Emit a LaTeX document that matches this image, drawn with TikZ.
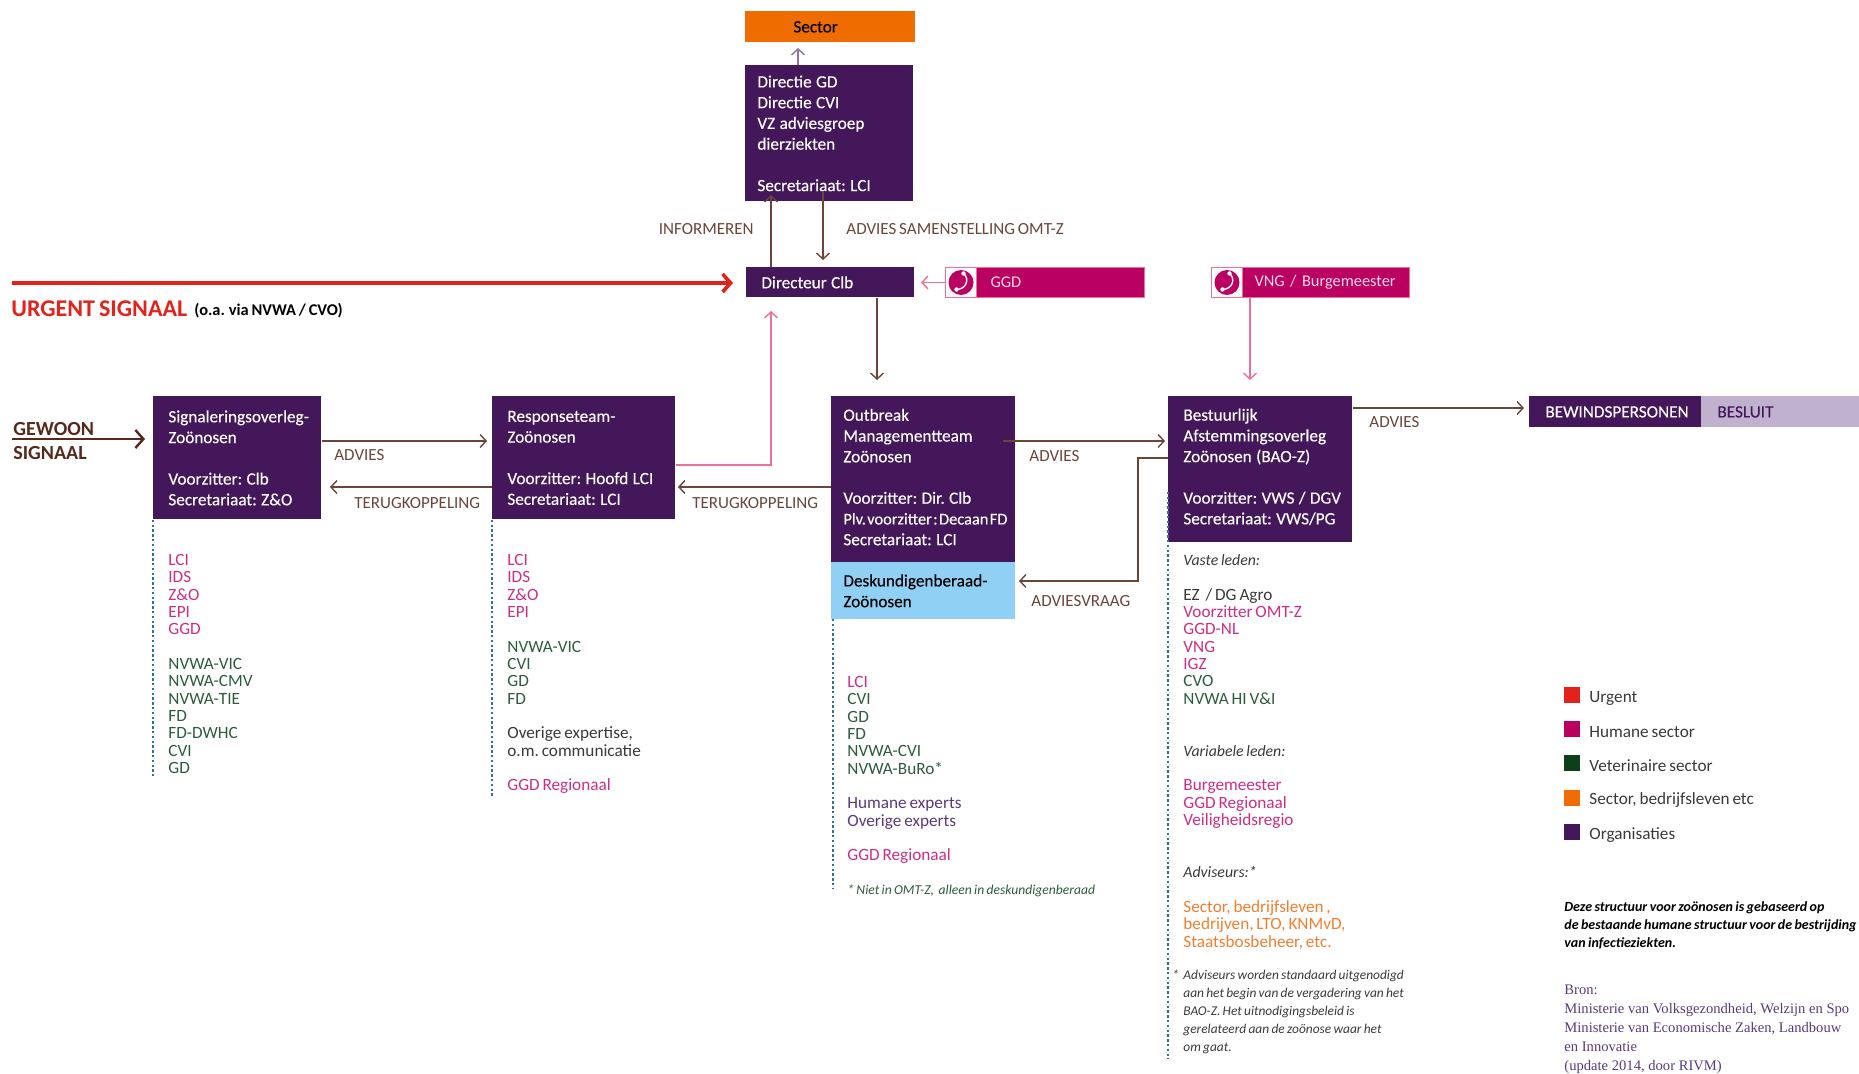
\documentclass[tikz,border=0pt]{standalone}
\usepackage{fontspec}
\setmainfont{Carlito}[WordSpace=0.75]
\newfontfamily\serifsrc{Liberation Serif}
\newfontfamily\boxfam{Carlito}[FakeBold=0.25]
\usetikzlibrary{arrows.meta}
\definecolor{org}{HTML}{43175A}
\definecolor{sect}{HTML}{EE6C00}
\definecolor{hum}{HTML}{BA0060}
\definecolor{humtxt}{HTML}{CC2E85}
\definecolor{hline}{HTML}{EE7098}
\definecolor{urg}{HTML}{E3231B}
\definecolor{vet}{HTML}{0B4019}
\definecolor{vettxt}{HTML}{2C5C3C}
\definecolor{orgtxt}{HTML}{5B3A7A}
\definecolor{sky}{HTML}{90D0F5}
\definecolor{lila}{HTML}{C0B1CE}
\definecolor{brn}{HTML}{6B4538}
\definecolor{dbrn}{HTML}{55291C}
\definecolor{dots}{HTML}{2F6FA8}
\definecolor{advtxt}{HTML}{F07F30}
\definecolor{gry}{HTML}{3A3A3A}
\newcommand{\boxfont}{\fontsize{8.6}{10.37}\selectfont\boxfam\frenchspacing}
\newcommand{\listfont}{\fontsize{8.6}{8.67}\selectfont\frenchspacing}
\newcommand{\ch}{\color{humtxt}}
\newcommand{\cv}{\color{vettxt}}
\newcommand{\cg}{\color{gry}}
\newcommand{\co}{\color{orgtxt}}
\newcommand{\ca}{\color{advtxt}}
\newcommand{\lh}{\fontsize{7.9}{8.67}\selectfont\itshape\color{gry}}
\newcommand{\phoneglyph}[2]{%
  \draw[handset] (#1+3,#2-9) .. controls (#1+10,#2-3) and (#1+5,#2+7) .. (#1-4,#2+7);
  \fill[white] (#1+3,#2-9) circle (1.1pt);
  \fill[white] (#1-4,#2+7) circle (1.1pt);
}
\tikzset{
  x=0.5pt,y=-0.5pt,
  >={Straight Barb[length=3pt,width=6.5pt]},
  orgbox/.style n args={3}{anchor=north west,fill=org,text=white,draw=none,
    minimum width=#1*0.5pt,minimum height=#2*0.5pt,
    inner xsep=#3*0.5pt,inner ysep=0pt,text width=(#1-2*#3)*0.5pt,
    align=left,font=\boxfont,execute at begin node={\spaceskip=2.2pt\relax}},
  phonebox/.style={anchor=north west,fill=hum,draw=hline,line width=0.5pt,text=white!85!hum,
    minimum height=15pt,inner ysep=0pt,align=left,font=\fontsize{8.2}{10}\selectfont\frenchspacing},
  iconbox/.style={anchor=north west,fill=white,draw=hline,line width=0.5pt,
    minimum width=15.5pt,minimum height=15pt,inner sep=0pt},
  iconcirc/.style={circle,fill=hum,minimum size=12.5pt,inner sep=0pt},
  handset/.style={white,line width=0.7pt,line cap=round},
  lbl/.style={anchor=west,inner sep=0pt,text=brn,font=\fontsize{8.5}{10}\selectfont\frenchspacing},
  memberlist/.style={anchor=north west,inner sep=0pt,align=left,font=\listfont},
  note/.style={anchor=north west,inner sep=0pt,align=left,text=gry,
    font=\fontsize{6.7}{9}\selectfont\itshape\frenchspacing},
  swatch/.style={anchor=center,minimum size=8pt,inner sep=0pt},
  legtxt/.style={anchor=west,inner sep=0pt,text=gry,font=\fontsize{8.6}{10}\selectfont},
  brnline/.style={draw=brn,line width=0.7pt},
  pinkline/.style={draw=hline,line width=0.7pt},
  dotline/.style={draw=dots,line width=1pt,dash pattern=on 1.2pt off 1.2pt},
}
\begin{document}
\begin{tikzpicture}
\useasboundingbox (0,0) rectangle (1859,1074);

% --- main boxes
\node[orgbox={170}{31}{48},fill=sect,text=black] (sector) at (745,11) {Sector};
\node[orgbox={168}{136}{12}] (directie) at (745,65) {Directie GD\\Directie CVI\\VZ adviesgroep\\dierziekten\\\mbox{}\\Secretariaat: LCI};
\node[orgbox={168}{30}{15}] (dir) at (746,267) {Directeur Clb};
\node[phonebox,minimum width=99.5pt,inner xsep=22.5pt,text width=54.5pt] (ggd) at (945,267) {GGD};
\node[iconbox] (icon1) at (945,267) {};
\node[iconcirc] (circ1) at (icon1.center) {};
\phoneglyph{960.5}{282.5}
\node[phonebox,minimum width=99pt,inner xsep=21.5pt,text width=56pt] (vng) at (1211,267) {\mbox{VNG / Burgemeester}};
\node[iconbox] (icon2) at (1211,267) {};
\node[iconcirc] (circ2) at (icon2.center) {};
\phoneglyph{1226.5}{282.5}

\node[orgbox={168}{123}{15}] (sig) at (153,396) {\mbox{Signaleringsoverleg-}\\Zoönosen\\\mbox{}\\Voorzitter: Clb\\Secretariaat: Z\&O};
\node[orgbox={183}{123}{15}] (resp) at (492,396) {Responseteam-\\Zoönosen\\\mbox{}\\Voorzitter: Hoofd LCI\\Secretariaat: LCI};
\node[orgbox={184}{166}{12}] (omt) at (831,396) {Outbreak\\Managementteam\\Zoönosen\\\mbox{}\\Voorzitter: Dir. Clb\\\mbox{\fontsize{8.2}{10.37}\selectfont\spaceskip=0.7pt\relax Plv. voorzitter : Decaan FD}\\Secretariaat: LCI\\[-8pt]\mbox{}};
\node[orgbox={184}{57}{12},fill=sky,text=black] (desk) at (831,562) {Deskundigenberaad-\\Zoönosen};
\node[orgbox={184}{146}{15}] (bao) at (1168,396) {Bestuurlijk\\Afstemmingsoverleg\\Zoönosen (BAO-Z)\\\mbox{}\\\mbox{Voorzitter: VWS / DGV}\\\mbox{Secretariaat: VWS/PG}\\[-7.5pt]\mbox{}};
\node[orgbox={172}{31}{16}] (bew) at (1529,396) {BEWINDSPERSONEN};
\node[orgbox={158}{31}{16},fill=lila,text=org] (bes) at (1701,396) {BESLUIT};

% --- free ends
\coordinate (urgstart) at (12,283);
\coordinate (gewstart) at (12,439);
\coordinate (urgtip) at (733,283);
\coordinate (gewtip) at (145,439);

% --- connectors
\draw[->,draw=urg,line width=1.8pt,>={Straight Barb[length=4pt,width=9pt]}] (urgstart) -- (urgtip);
\draw[->,draw=dbrn,line width=1.2pt,>={Straight Barb[length=4pt,width=9pt]}] (gewstart) -- (gewtip);
\draw[->,draw=orgtxt!70,line width=0.7pt] (directie.north -| 798,0) -- (798,48);
\draw[->,brnline] (dir.north -| 771,0) -- (771,195);
\draw[->,brnline] (823,192) -- (823,260);
\draw[->,pinkline] (ggd.west) -- ++(-24,0);
\draw[->,brnline] (dir.south -| 877,0) -- (877,380);
\draw[->,pinkline] (vng.south -| 1250,0) -- (1250,380);
\draw[->,pinkline] (resp.east |- 0,465) -| (771,311);
\draw[->,brnline] (sig.east |- 0,441) -- (487,441);
\draw[->,brnline] (resp.west |- 0,487) -- (330,487);
\draw[->,brnline] (omt.west |- 0,487) -- (678,487);
\draw[->,brnline] (1003,441) -- (1165,441);
\draw[->,brnline] (bao.west |- 0,458) -| (1138,581) -- (1019,581);
\draw[->,brnline] (bao.east |- 0,408) -- (1524,408);

% --- dotted member rails
\draw[dotline] (sig.south west) -- (153,776);
\draw[dotline] (resp.south west) -- (492,798);
\draw[dotline] (833,619) -- (833,889);
\draw[dotline] (1168,492) -- (1168,1059);

% --- connector labels
\node[lbl,anchor=east] (l1) at (754,229) {INFORMEREN};
\node[lbl] (l2) at (846,229) {ADVIES SAMENSTELLING OMT-Z};
\node[lbl] (l3) at (334,455) {ADVIES};
\node[lbl] (l4) at (354,503) {TERUGKOPPELING};
\node[lbl] (l5) at (692,503) {TERUGKOPPELING};
\node[lbl] (l6) at (1029,456) {ADVIES};
\node[lbl] (l7) at (1031,601) {ADVIESVRAAG};
\node[lbl] (l8) at (1369,422) {ADVIES};

\node[anchor=west,inner sep=0pt,text=urg,font=\fontsize{12}{13}\selectfont\bfseries] (urgent) at (11,309) {URGENT SIGNAAL};
\node[anchor=west,inner sep=0pt,text=black,font=\fontsize{8.2}{9}\selectfont\bfseries] (urgvia) at (194,311) {(o.a. via NVWA / CVO)};
\node[anchor=north west,inner sep=0pt,align=left,text=dbrn,font=\fontsize{10}{12}\selectfont\bfseries] (gewoon) at (13,422) {GEWOON\\SIGNAAL};

% --- member lists
\node[memberlist] (m1) at (168,553) {\strut\ch LCI\\\ch IDS\\\ch Z\&O\\\ch EPI\\\ch GGD\\\mbox{}\\\cv NVWA-VIC\\\cv NVWA-CMV\\\cv NVWA-TIE\\\cv FD\\\cv FD-DWHC\\\cv CVI\\\cv GD};
\node[memberlist] (m2) at (507,553) {\strut\ch LCI\\\ch IDS\\\ch Z\&O\\\ch EPI\\\mbox{}\\\cv NVWA-VIC\\\cv CVI\\\cv GD\\\cv FD\\\mbox{}\\\cg Overige expertise,\\\cg o.m. communicatie\\\mbox{}\\\ch GGD Regionaal};
\node[memberlist] (m3) at (847,675) {\strut\ch LCI\\\cv CVI\\\cv GD\\\cv FD\\\cv NVWA-CVI\\\cv NVWA-BuRo*\\\mbox{}\\\co Humane experts\\\co Overige experts\\\mbox{}\\\ch GGD Regionaal};
\node[anchor=west,inner sep=0pt,text=vettxt,font=\fontsize{6.8}{8}\selectfont\itshape] (m3n) at (847,891) {* Niet in OMT-Z,\ \ alleen in deskundigenberaad};
\node[memberlist] (m4) at (1183,553) {\strut\lh Vaste leden:\\\mbox{}\\\cg EZ\ \ / DG Agro\\\ch Voorzitter OMT-Z\\\ch GGD-NL\\\ch VNG\\\ch IGZ\\\cv CVO\\\cv NVWA HI V\&I\\\mbox{}\\\mbox{}\\\lh Variabele leden:\\\mbox{}\\\ch Burgemeester\\\ch GGD Regionaal\\\ch Veiligheidsregio\\\mbox{}\\\mbox{}\\\lh Adviseurs:*\\\mbox{}\\\ca Sector, bedrijfsleven ,\\\ca bedrijven, LTO, KNMvD,\\\ca Staatsbosbeheer, etc.};
\node[note] (star) at (1172,966) {\strut *};
\node[note] (m4n) at (1183,966) {\strut Adviseurs worden standaard uitgenodigd\\aan het begin van de vergadering van het\\BAO-Z. Het uitnodigingsbeleid is\\gerelateerd aan de zoönose waar het\\om gaat.};

% --- legend
\node[swatch,fill=urg] (s1) at (1572,695) {};
\node[swatch,fill=hum] (s2) at (1572,729) {};
\node[swatch,fill=vet] (s3) at (1572,763) {};
\node[swatch,fill=sect] (s4) at (1572,798) {};
\node[swatch,fill=org] (s5) at (1572,832) {};
\node[legtxt] (t1) at (1589,698) {Urgent};
\node[legtxt] (t2) at (1589,732) {Humane sector};
\node[legtxt] (t3) at (1589,766) {Veterinaire sector};
\node[legtxt] (t4) at (1589,800) {Sector, bedrijfsleven etc};
\node[legtxt] (t5) at (1589,835) {Organisaties};

\node[anchor=north west,inner sep=0pt,align=left,text=black,font=\fontsize{7}{9.1}\selectfont\bfseries\itshape\frenchspacing] (basis) at (1564,898) {\strut Deze structuur voor zoönosen is gebaseerd op\\de bestaande humane structuur voor de bestrijding\\van infectieziekten.};
\node[anchor=north west,inner sep=0pt,align=left,text=orgtxt,font=\fontsize{7.3}{9.45}\selectfont\serifsrc] (bron) at (1564,981) {\strut Bron:\\Ministerie van Volksgezondheid, Welzijn en Spo\\Ministerie van Economische Zaken, Landbouw\\en Innovatie\\(update 2014, door RIVM)};
\end{tikzpicture}
\end{document}
